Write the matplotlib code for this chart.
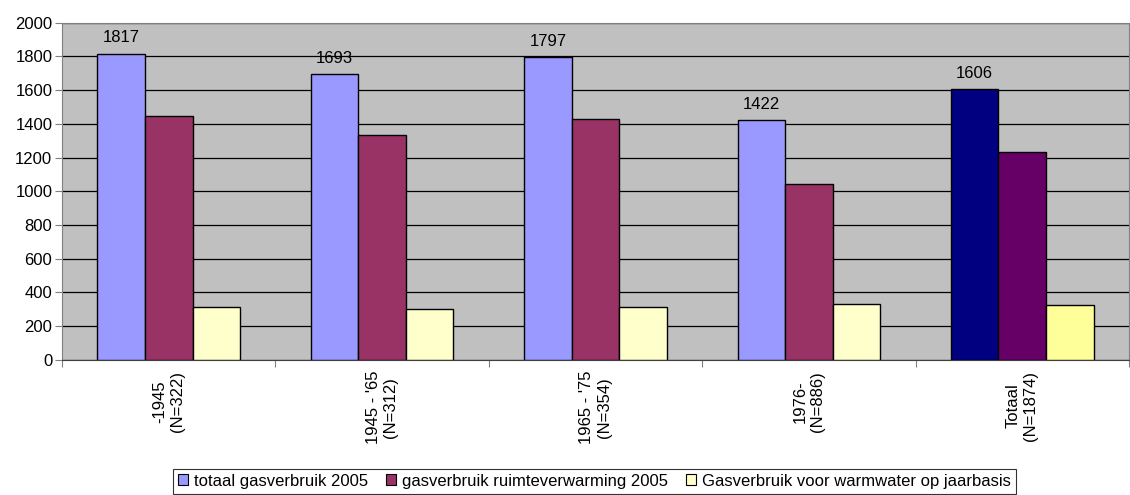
import matplotlib.pyplot as plt
import numpy as np
from matplotlib.patches import Patch

plt.rcParams['font.family'] = ['Liberation Sans', 'DejaVu Sans']

groups = ['-1945\n(N=322)', "1945 - '65\n(N=312)", "1965 - '75\n(N=354)",
          '1976-\n(N=886)', 'Totaal\n(N=1874)']
totaal = [1817, 1693, 1797, 1422, 1606]
ruimte = [1445, 1333, 1430, 1043, 1233]
warmwater = [315, 302, 315, 332, 323]

series_names = ['totaal gasverbruik 2005', 'gasverbruik ruimteverwarming 2005',
                'Gasverbruik voor warmwater op jaarbasis']
colors = ['#9999FF', '#993366', '#FFFFCC']
total_colors = ['#000080', '#660066', '#FFFF99']

fig = plt.figure(figsize=(11.3, 4.95), dpi=100)
ax = fig.add_axes([0.0549, 0.2733, 0.9442, 0.6808])

x = np.arange(len(groups))
w = 0.223
for i, vals in enumerate([totaal, ruimte, warmwater]):
    cols = [colors[i]] * (len(groups) - 1) + [total_colors[i]]
    bars = ax.bar(x + (i - 1) * w, vals, w, color=cols, edgecolor='black',
                  linewidth=1.0, zorder=3)
    if i == 0:
        ax.bar_label(bars, labels=[str(v) for v in vals], padding=6,
                     fontsize=12)

ax.set_facecolor('#C0C0C0')
ax.set_xlim(-0.5, len(groups) - 0.5)
ax.set_ylim(0, 2000)
ax.set_yticks(np.arange(0, 2001, 200))
ax.yaxis.grid(True, color='black', linewidth=0.9, zorder=0)
ax.set_axisbelow(True)

ax.set_xticks(np.arange(len(groups) + 1) - 0.5)
ax.set_xticklabels([])
ax.set_xticks(x, minor=True)
ax.set_xticklabels(groups, minor=True, rotation=90, fontsize=12,
                   multialignment='center')
ax.tick_params(axis='x', which='minor', length=0, pad=8)
ax.tick_params(axis='x', which='major', length=5, color='#808080', direction='out')
ax.tick_params(axis='y', length=5, color='#808080', labelsize=12, pad=2)

for s in ['top', 'right']:
    ax.spines[s].set_color('#808080')
ax.spines['left'].set_color('#808080')
ax.spines['bottom'].set_color('#404040')

handles = [Patch(facecolor=c, edgecolor='black', linewidth=0.8) for c in colors]
leg = fig.legend(handles, series_names, loc='lower center', ncol=3,
                 bbox_to_anchor=(0.526, -0.014), fontsize=12, frameon=True,
                 fancybox=False, edgecolor='black', handlelength=0.6,
                 handleheight=0.6, handletextpad=0.35, columnspacing=1.1,
                 borderpad=0.3)
leg.get_frame().set_linewidth(0.8)

fig.savefig('out.png', dpi=100)
